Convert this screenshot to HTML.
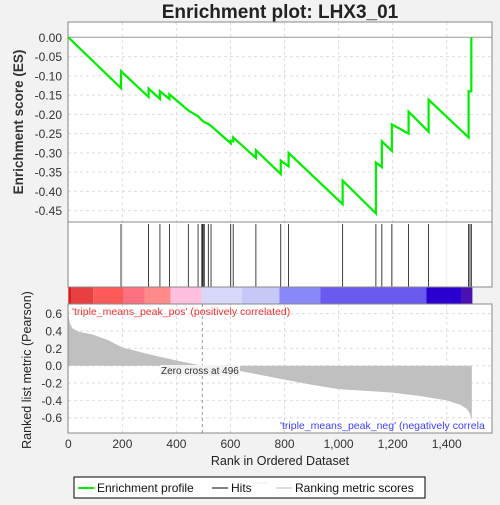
<!DOCTYPE html>
<html><head><meta charset="utf-8"><style>
body{margin:0;background:#f2f2f2;font-family:"Liberation Sans",sans-serif}
</style></head><body>
<svg id="c" width="500" height="500" xmlns="http://www.w3.org/2000/svg" font-family="Liberation Sans, sans-serif">
<rect width="500" height="500" fill="#f2f2f2"/>
<text x="280" y="18" text-anchor="middle" font-size="19" font-weight="bold" fill="#222">Enrichment plot: LHX3_01</text>
<rect x="68" y="22" width="424" height="200" fill="#fff"/>
<rect x="68" y="222" width="424" height="65" fill="#fff"/>
<rect x="68" y="304" width="424" height="129" fill="#fff"/>
<g id="grid"></g>
<g id="cbar"></g>
<g id="hits"></g>
<g id="metric"></g>
<g id="es"></g>
<rect x="68" y="22" width="424" height="265" fill="none" stroke="#888"/>
<line x1="68" y1="222" x2="492" y2="222" stroke="#888"/>
<rect x="68" y="304" width="424" height="129" fill="none" stroke="#888"/>
<g id="axes" font-size="12" fill="#333"></g>
<text x="72" y="315" font-size="10.5" fill="#f03030">'triple_means_peak_pos' (positively correlated)</text>
<text x="280" y="429" font-size="10.5" fill="#4040ff">'triple_means_peak_neg' (negatively correla</text>
<rect x="160" y="365" width="80" height="11" fill="#f2f2f2"/>
<text x="161" y="374" font-size="10" fill="#333">Zero cross at 496</text>
<text x="280" y="465" text-anchor="middle" font-size="12.5" fill="#222">Rank in Ordered Dataset</text>
<text transform="translate(23,122) rotate(-90)" text-anchor="middle" font-size="13.5" font-weight="bold" fill="#333">Enrichment score (ES)</text>
<text transform="translate(31,370) rotate(-90)" text-anchor="middle" font-size="12.5" fill="#222">Ranked list metric (Pearson)</text>
<g>
<rect x="74" y="477" width="351" height="21" fill="#fff" stroke="#000"/>
<line x1="78" y1="488" x2="94" y2="488" stroke="#00ee00" stroke-width="2"/>
<text x="97" y="492" font-size="12" fill="#111">Enrichment profile</text>
<line x1="212" y1="488" x2="228" y2="488" stroke="#000"/>
<text x="231" y="492" font-size="12" fill="#111">Hits</text>
<line x1="253" y1="483" x2="268" y2="483" stroke="#eee"/>
<line x1="276" y1="488" x2="292" y2="488" stroke="#bbb"/>
<text x="295" y="492" font-size="12" fill="#111">Ranking metric scores</text>
</g>
</svg>
<script>
const hitRanks=[195,297,339,374,444,480,494,497,501,503,518,528,601,610,694,786,815,1015,1138,1160,1197,1259,1333,1481,1486,1491];
const esRanks=[0,195,195,297,297,339,339,374,374,444,480,494,503,518,528,601,601,610,610,694,694,786,786,815,815,1015,1015,1138,1138,1160,1160,1197,1197,1259,1259,1333,1333,1481,1481,1491,1491];
const esValues=[0,-0.132,-0.088,-0.155,-0.133,-0.16,-0.14,-0.16,-0.148,-0.19,-0.205,-0.215,-0.22,-0.225,-0.23,-0.275,-0.268,-0.27,-0.26,-0.313,-0.293,-0.355,-0.32,-0.335,-0.30,-0.433,-0.372,-0.457,-0.325,-0.337,-0.27,-0.295,-0.226,-0.25,-0.193,-0.245,-0.162,-0.26,-0.14,-0.14,0.0];
const metricRanks=[0,5,15,40,90,150,200,300,400,496,600,700,800,900,1000,1100,1200,1300,1400,1450,1475,1485,1493];
const metricValues=[0.6,0.5,0.43,0.39,0.36,0.29,0.21,0.13,0.06,0,-0.04,-0.1,-0.16,-0.22,-0.27,-0.29,-0.31,-0.35,-0.4,-0.45,-0.5,-0.55,-0.62];
const esTicks=[0,-0.05,-0.1,-0.15,-0.2,-0.25,-0.3,-0.35,-0.4,-0.45];
const metricTicks=[0.6,0.4,0.2,0,-0.2,-0.4,-0.6];
const xTicks=[0,200,400,600,800,1000,1200,1400];
const xTickLabels=["0","200","400","600","800","1,000","1,200","1,400"];
const barRanks=[0,10,92,205,282,378,494,642,781,933,1325,1455,1495];
const barColors=["#d42020","#e84040","#ff5a5a","#ff7080","#ff8a8a","#ffc0e0","#d8d8f8","#c8c8f8","#8888f8","#6a5af0","#2a00d0","#4a10b0"];
const NS="http://www.w3.org/2000/svg";
const X=r=>68.3+r*0.2703;
const YE=v=>37.3-v*385.3;
const YM=v=>365.7-v*86.7;
function mk(p,t,a){const e=document.createElementNS(NS,t);for(const k in a)e.setAttribute(k,a[k]);document.getElementById(p).appendChild(e);return e;}
// grid
xTicks.forEach(t=>{
 const g1=mk('grid','line',{x1:X(t),x2:X(t),y1:22,y2:222,stroke:'#ddd','stroke-dasharray':'3,3'});
 
 
 const g2=mk('grid','line',{x1:X(t),x2:X(t),y1:304,y2:433,stroke:'#ddd','stroke-dasharray':'3,3'});
 
 
 const g3=mk('grid','line',{x1:X(t),x2:X(t),y1:222,y2:287,stroke:'#eee'});
 
 
});
esTicks.forEach(t=>{
 const g=mk('grid','line',{x1:68,x2:492,y1:YE(t),y2:YE(t),stroke:t===0?'#999':'#ddd','stroke-dasharray':t===0?'':'3,3'});
 
 
 const l=mk('axes','text',{x:62,y:YE(t)+4.5,'text-anchor':'end'});l.textContent=t.toFixed(2);
 
 
});
metricTicks.forEach(t=>{
 const g=mk('grid','line',{x1:68,x2:492,y1:YM(t),y2:YM(t),stroke:'#ddd','stroke-dasharray':'3,3'});
 
 
 const l=mk('axes','text',{x:62,y:YM(t)+4.5,'text-anchor':'end'});l.textContent=t.toFixed(1);
 
 
});
xTicks.forEach((t,i)=>{
 const l=mk('axes','text',{x:X(t),y:448,'text-anchor':'middle'});l.textContent=xTickLabels[i];
 
 
});
const zl=mk('grid','line',{x1:X(496),x2:X(496),y1:304,y2:433,stroke:'#999','stroke-dasharray':'3,3'});


// color bar
barColors.forEach((c,i)=>{
 const r=mk('cbar','rect',{x:X(barRanks[i]),y:287,width:X(barRanks[i+1])-X(barRanks[i]),height:17,fill:c});
 
 
});
// hits
hitRanks.forEach(h=>{
 const l=mk('hits','line',{x1:X(h),x2:X(h),y1:224,y2:287,stroke:'#111','stroke-width':0.8});
 
 
});
// metric area
let d='M'+X(0)+','+YM(0);
metricRanks.forEach((r,i)=>{d+=' L'+X(r)+','+YM(metricValues[i]);});
d+=' L'+X(metricRanks[metricRanks.length-1])+','+YM(0)+' Z';
const ma=mk('metric','path',{d:d,fill:'#c0c0c0'});


// es line
const pts=esRanks.map((r,i)=>X(r)+','+YE(esValues[i])).join(' ');
const el=mk('es','polyline',{points:pts,fill:'none',stroke:'#00ee00','stroke-width':2.2});


</script>
</body></html>
